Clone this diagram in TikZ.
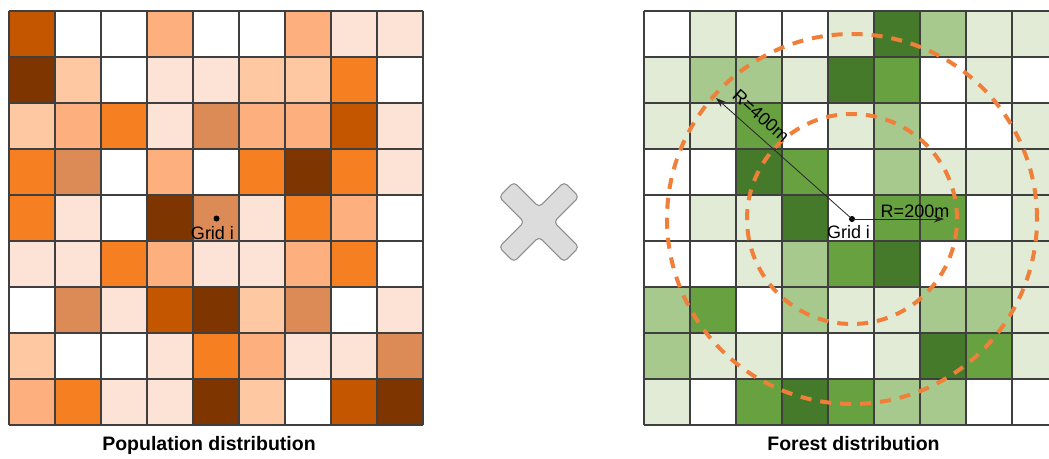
\documentclass[tikz,border=0pt]{standalone}
\usepackage{fontspec}
\setmainfont{Liberation Sans}
\usetikzlibrary{arrows.meta}
\definecolor{L1}{HTML}{FDE3D6}
\definecolor{L2}{HTML}{FDC8A2}
\definecolor{L3}{HTML}{FDAF7D}
\definecolor{M}{HTML}{DC8A56}
\definecolor{O}{HTML}{F57F21}
\definecolor{D1}{HTML}{C45600}
\definecolor{D2}{HTML}{7F3500}
\definecolor{G1}{HTML}{E1EBD5}
\definecolor{G2}{HTML}{A7C98D}
\definecolor{G3}{HTML}{68A13F}
\definecolor{G4}{HTML}{467A2B}
\colorlet{W}{white}
\definecolor{gridcol}{HTML}{3F3F3F}
\definecolor{ringcol}{HTML}{F07F3A}
\definecolor{xfill}{HTML}{DCDCDC}
\definecolor{xline}{HTML}{8C8C8C}
\tikzset{
  gridline/.style={draw=gridcol, line width=1.4pt},
  ring/.style={draw=ringcol, line width=4pt, dash pattern=on 11pt off 9pt},
  dot/.style={circle, fill=black, inner sep=0pt, minimum size=6pt},
  lab/.style={font=\fontsize{18}{18}\selectfont, inner sep=0pt, text=black},
  ttl/.style={font=\bfseries\fontsize{19.5}{20}\selectfont, inner sep=0pt, anchor=base},
  radarrow/.style={-{Stealth[length=10pt,width=7pt]}, line width=0.8pt, draw=black!85}
}
\begin{document}
\begin{tikzpicture}[x=1pt,y=-1pt]
\useasboundingbox (0,0) rectangle (1049,458);
\fill[white] (0,0) rectangle (1049,458);
% left grid (population)
\foreach \row [count=\r from 0] in {
  {D1,W,W,L3,W,W,L3,L1,L1},
  {D2,L2,W,L1,L1,L2,L2,O,W},
  {L2,L3,O,L1,M,L3,L3,D1,L1},
  {O,M,W,L3,W,O,D2,O,L1},
  {O,L1,W,D2,M,L1,O,L3,W},
  {L1,L1,O,L3,L1,L1,L3,O,W},
  {W,M,L1,D1,D2,L2,M,W,L1},
  {L2,W,W,L1,O,L3,L1,L1,M},
  {L3,O,L1,L1,D2,L2,W,D1,D2}} {
  \foreach \c [count=\k from 0] in \row {
    \fill[\c] (9+46*\k,11+46*\r) rectangle ++(46,46);
  }
}
\foreach \i in {0,...,9} {
  \draw[gridline] (9+46*\i,11) -- ++(0,414);
  \draw[gridline] (9,11+46*\i) -- ++(414,0);
}
% right grid (forest)
\foreach \row [count=\r from 0] in {
  {W,G1,W,W,G1,G4,G2,G1,G1},
  {G1,G2,G2,G1,G4,G3,W,G1,W},
  {G1,G1,G3,W,G1,G2,W,W,G1},
  {W,W,G4,G3,W,G2,G1,G1,G1},
  {W,G1,G1,G4,W,G3,G3,W,G1},
  {W,W,G1,G2,G3,G4,W,G1,G1},
  {G2,G3,W,G2,G1,G1,G2,G2,G1},
  {G2,G1,G1,W,W,G1,G4,G3,G1},
  {G1,W,G3,G4,G3,G2,G2,W,W}} {
  \foreach \c [count=\k from 0] in \row {
    \fill[\c] (644+46*\k,11+46*\r) rectangle ++(46,46);
  }
}
\foreach \i in {0,...,9} {
  \draw[gridline] (644+46*\i,11) -- ++(0,414);
  \draw[gridline] (644,11+46*\i) -- ++(414,0);
}
% left centre
\node[dot] (pi) at (216.5,218.5) {};
\node[lab, anchor=base] (pl) at (212.5,239) {Grid i};
% right centre, rings and radii
\node[dot] (ri) at (852,219) {};
\draw[ring] (ri.center) circle[radius=105pt];
\draw[ring] (ri.center) circle[radius=185pt];
\coordinate (t4) at (716,98);
\coordinate (t2) at (944,219);
\draw[radarrow] (ri.center) -- (t4);
\draw[radarrow] (ri.center) -- (t2);
\node[lab, rotate=-41.7] (r4) at (761,116) {R=400m};
\node[lab, anchor=base] (r2) at (915,217) {R=200m};
\node[lab, anchor=base] (rl) at (848.5,238) {Grid i};
% multiplication sign
\begin{scope}[shift={(539,222)}, rotate=45]
\draw[fill=xfill, draw=xline, line width=1pt, rounded corners=4pt]
  (46,-10.5) -- (46,10.5) -- (10.5,10.5) -- (10.5,46) -- (-10.5,46) -- (-10.5,10.5)
  -- (-46,10.5) -- (-46,-10.5) -- (-10.5,-10.5) -- (-10.5,-46) -- (10.5,-46) -- (10.5,-10.5) -- cycle;
\end{scope}
% titles
\node[ttl] (tp) at (209,450) {Population distribution};
\node[ttl] (tf) at (853.5,450) {Forest distribution};
\end{tikzpicture}
\end{document}
